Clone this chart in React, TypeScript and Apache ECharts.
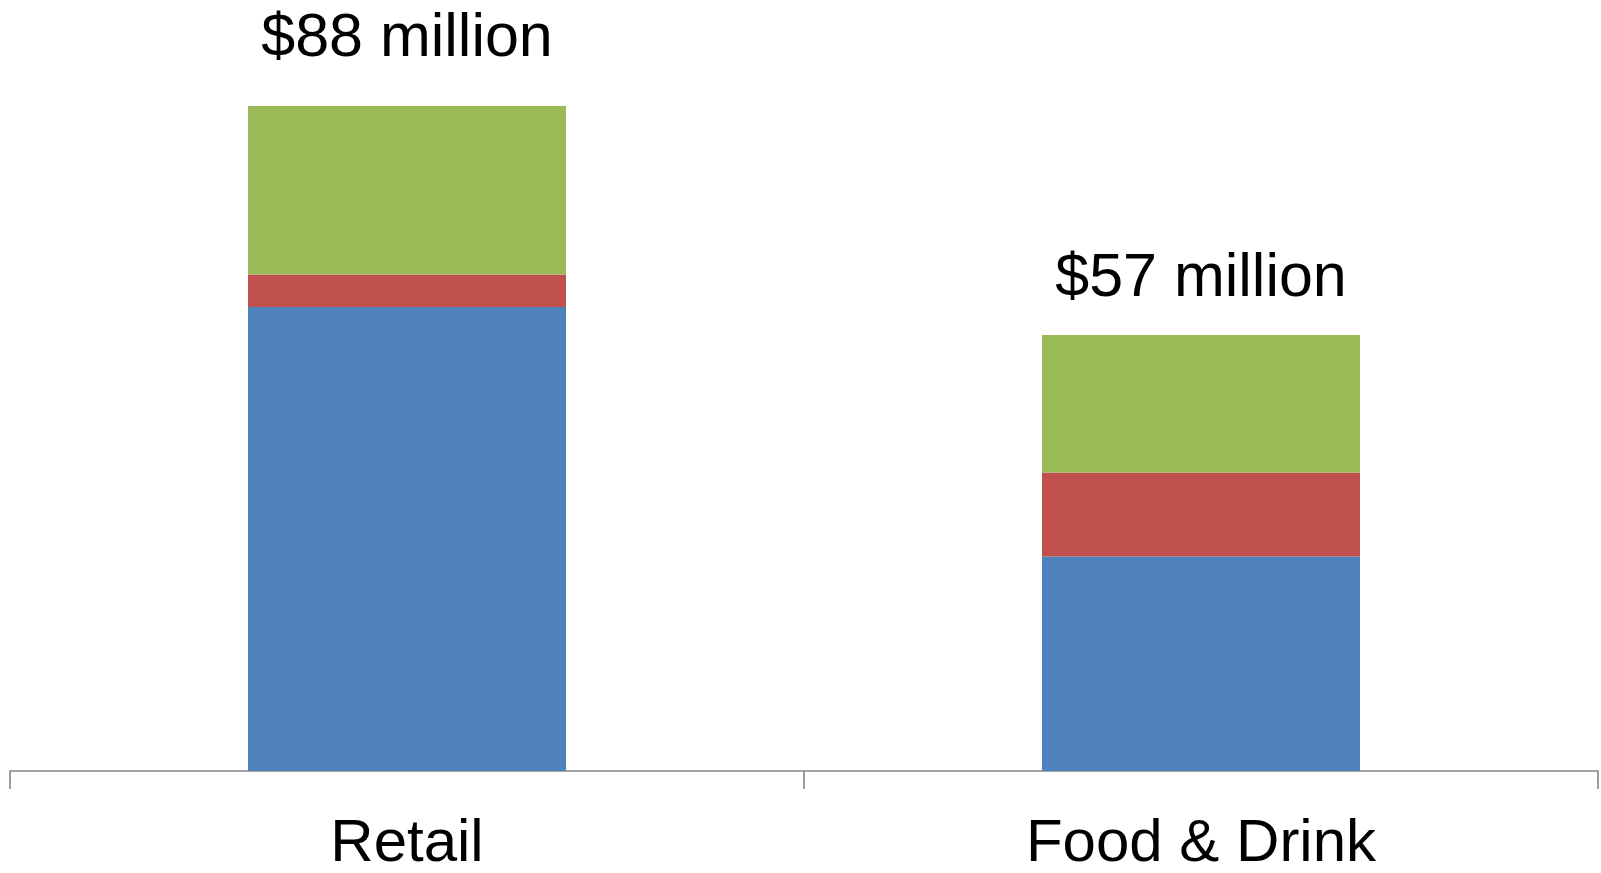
import React, { useEffect, useRef } from "react";
import * as echarts from "echarts";

const categories = ["Retail", "Food & Drink"];
const seriesNames = ["Segment A", "Segment B", "Segment C"];
const blueValues = [61.4, 28.4];
const redValues = [4.3, 11.1];
const greenValues = [22.3, 18.2];
const totalLabels = ["$88 million", "$57 million"];

const colors = ["#4F81BD", "#C0504D", "#9BBB59"];
const labelDistances = [40, 29];
const FONT = "'Liberation Sans', Arial, sans-serif";

export default function App() {
  const ref = useRef<HTMLDivElement>(null);
  useEffect(() => {
    if (!ref.current) return;
    const chart = echarts.init(ref.current, null, { renderer: "svg" });
    const valueSets = [blueValues, redValues, greenValues];
    chart.setOption({
      animation: false,
      backgroundColor: "#ffffff",
      grid: { left: 10, right: 3, top: 15.3, bottom: 102, containLabel: false },
      xAxis: {
        type: "category",
        data: categories,
        axisLine: { lineStyle: { color: "#868686", width: 1.6 } },
        axisTick: { show: true, length: 18, lineStyle: { color: "#868686", width: 1.6 } },
        axisLabel: {
          color: "#000",
          fontFamily: FONT,
          fontSize: 60,
          lineHeight: 40,
          margin: 49,
        },
      },
      yAxis: {
        type: "value",
        min: 0,
        max: 100,
        show: false,
        splitLine: { show: false },
      },
      series: valueSets.map((vals, si) => ({
        name: seriesNames[si],
        type: "bar",
        stack: "total",
        barWidth: 318,
        itemStyle: { color: colors[si] },
        data: vals.map((v, i) =>
          si === 2
            ? {
                value: v,
                label: {
                  show: true,
                  position: "top",
                  distance: labelDistances[i],
                  formatter: () => totalLabels[i],
                  color: "#000",
                  fontFamily: FONT,
                  fontSize: 61,
                },
              }
            : v
        ),
      })),
    });
    return () => chart.dispose();
  }, []);
  return (
    <div
      ref={ref}
      style={{ position: "fixed", left: 0, top: 0, width: 1601, height: 873 }}
    />
  );
}
